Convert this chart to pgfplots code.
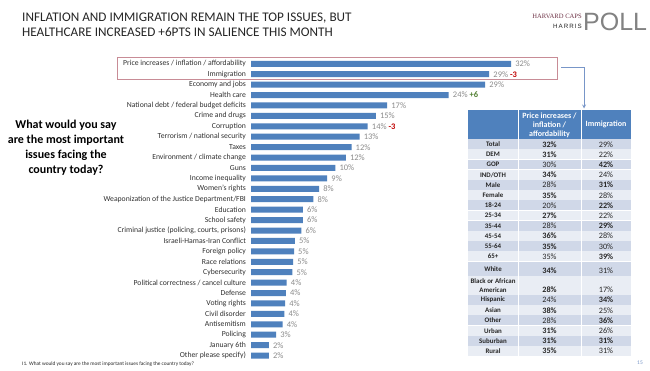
\documentclass[border=0pt]{standalone}
\usepackage{pgfplots}
\pgfplotsset{compat=1.18}
\usepackage{fontspec}
\setmainfont{Carlito}
\newfontfamily\serifl{Liberation Serif}
\newfontfamily\sansl{Liberation Sans}
\definecolor{barblue}{RGB}{79,129,189}
\definecolor{hdrblue}{RGB}{79,129,189}
\definecolor{rowdark}{RGB}{208,216,232}
\definecolor{rowlight}{RGB}{233,237,244}
\definecolor{lblgray}{RGB}{140,140,140}
\definecolor{txtdark}{RGB}{38,38,38}
\definecolor{ticktxt}{RGB}{50,50,50}
\definecolor{chgred}{RGB}{192,0,0}
\definecolor{chggreen}{RGB}{84,130,53}
\definecolor{boxpink}{RGB}{200,140,150}
\definecolor{arrowblue}{RGB}{120,150,200}
\definecolor{logored}{RGB}{110,50,70}
\definecolor{pollgray}{RGB}{130,130,130}
\newcommand{\ls}{\fontsize{7.7}{9}\selectfont}
\newcommand{\tabrow}[6]{%
  \fill[#6] (468,#1) rectangle (631,#2);
  \draw[white,line width=0.6pt] (468,#2) -- (631,#2);
  \node[font=\bfseries\fontsize{6.9}{9}\selectfont, align=center, text=txtdark, inner sep=0pt] at ({493},{(#1+#2)/2}) {#3};
  \node[font=\fontsize{8.2}{9}\selectfont, text=txtdark, inner sep=0pt] at ({549.5},{#2-5}) {#4};
  \node[font=\fontsize{8.2}{9}\selectfont, text=txtdark, inner sep=0pt] at ({606},{#2-5}) {#5};
}
\begin{document}
\begin{tikzpicture}[x=1pt,y=-1pt]
\path[use as bounding box, fill=white] (0,0) rectangle (650,371);
% title
\node[anchor=north west, align=left, font=\fontsize{13.2}{15}\selectfont, text=txtdark, inner sep=0pt] at (22,12.3)
  {INFLATION AND IMMIGRATION REMAIN THE TOP ISSUES, BUT\\HEALTHCARE INCREASED +6PTS IN SALIENCE THIS MONTH};
% logo
\node[anchor=east, font=\serifl\fontsize{6.6}{7}\selectfont, text=logored, inner sep=0pt] at (582,16.5) {HARVARD CAPS};
\node[anchor=east, font=\sansl\fontsize{6.2}{7}\selectfont, text=txtdark, inner sep=0pt] at (582,26) {H\,A\,R\,R\,I\,S};
\node[anchor=west, font=\sansl\fontsize{25}{26}\selectfont, text=pollgray, inner sep=0pt] at (583,21.5) {POLL};
% question
\node[align=center, font=\bfseries\fontsize{12}{15}\selectfont, text=black] at (66,147.5)
  {What would you say\\are the most important\\issues facing the\\country today?};
% highlight box and arrow
\draw[boxpink, line width=0.7pt] (117,57.5) rectangle (557.5,79);
\draw[arrowblue, line width=0.8pt, -stealth] (561,67.3) -- (584,67.3) -- (584,108.5);
% chart
\begin{axis}[
  at={(310,56.2)}, anchor=north west,
  scale only axis, width=324pt, height=302.2pt,
  xmin=0, xmax=40, ymin=-0.5, ymax=28.5, y dir=reverse,
  xbar, bar width=6pt, bar shift=0pt,
  axis line style={draw=none}, xtick=\empty, ytick={0,...,28}, major tick length=0pt,
  yticklabels={Price increases / inflation / affordability, Immigration, Economy and jobs, Health care,
    National debt / federal budget deficits, Crime and drugs, Corruption, Terrorism / national security,
    Taxes, Environment / climate change, Guns, Income inequality, Women's rights,
    Weaponization of the Justice Department/FBI, Education, School safety,
    {Criminal justice (policing, courts, prisons)}, Israeli-Hamas-Iran Conflict, Foreign policy,
    Race relations, Cybersecurity, Political correctness / cancel culture, Defense, Voting rights,
    Civil disorder, Antisemitism, Policing, January 6th, Other please specify)},
  yticklabel style={font=\ls, text=ticktxt, inner sep=0pt, xshift=-5pt},
  clip=false,
  nodes near coords, point meta=explicit symbolic,
  nodes near coords style={font=\fontsize{8.5}{9}\selectfont, text=lblgray, anchor=west, inner sep=0pt, xshift=4pt},
]
\addplot[fill=barblue, draw=none] coordinates {
  (32.1,0) [32\%]
  (29.4,1) [29\% \textcolor{chgred}{\textbf{-3}}]
  (28.9,2) [29\%]
  (24.4,3) [24\% \textcolor{chggreen}{\textbf{+6}}]
  (16.8,4) [17\%]
  (15.4,5) [15\%]
  (14.4,6) [14\% \textcolor{chgred}{\textbf{-3}}]
  (13.4,7) [13\%]
  (12.4,8) [12\%]
  (11.7,9) [12\%]
  (10.4,10) [10\%]
  (9.4,11) [9\%]
  (8.4,12) [8\%]
  (7.7,13) [8\%]
  (6.4,14) [6\%]
  (6.4,15) [6\%]
  (6.2,16) [6\%]
  (5.4,17) [5\%]
  (5.3,18) [5\%]
  (5.2,19) [5\%]
  (5.1,20) [5\%]
  (4.4,21) [4\%]
  (4.3,22) [4\%]
  (4.2,23) [4\%]
  (4.1,24) [4\%]
  (3.9,25) [4\%]
  (3.1,26) [3\%]
  (2.2,27) [2\%]
  (2.2,28) [2\%]
};
\end{axis}
% table
\fill[hdrblue] (468,110) rectangle (631,139.2);
\begin{scope}
\clip (468,110) rectangle (631,138.6);
\node[align=center, font=\bfseries\fontsize{8}{9}\selectfont, text=white, inner sep=0pt] at (549.5,125.5) {Price increases /\\inflation /\\affordability};
\end{scope}
\node[font=\bfseries\fontsize{8}{9}\selectfont, text=white, inner sep=0pt] at (606,124.5) {Immigration};
\tabrow{139.2}{149.4}{Total}{\textbf{32\%}}{29\%}{rowdark}
\tabrow{149.4}{159.6}{DEM}{\textbf{31\%}}{22\%}{rowlight}
\tabrow{159.6}{169.8}{GOP}{30\%}{\textbf{42\%}}{rowdark}
\tabrow{169.8}{180.0}{IND/OTH}{\textbf{34\%}}{24\%}{rowlight}
\tabrow{180.0}{190.2}{Male}{28\%}{\textbf{31\%}}{rowdark}
\tabrow{190.2}{200.4}{Female}{\textbf{35\%}}{28\%}{rowlight}
\tabrow{200.4}{210.6}{18-24}{20\%}{\textbf{22\%}}{rowdark}
\tabrow{210.6}{220.8}{25-34}{\textbf{27\%}}{22\%}{rowlight}
\tabrow{220.8}{231.0}{35-44}{28\%}{\textbf{29\%}}{rowdark}
\tabrow{231.0}{241.2}{45-54}{\textbf{36\%}}{28\%}{rowlight}
\tabrow{241.2}{251.4}{55-64}{\textbf{35\%}}{30\%}{rowdark}
\tabrow{251.4}{261.6}{65+}{35\%}{\textbf{39\%}}{rowlight}
\tabrow{261.6}{276.0}{White}{\textbf{34\%}}{31\%}{rowdark}
\tabrow{276.0}{295.0}{Black or African\\American}{\textbf{28\%}}{17\%}{rowlight}
\tabrow{295.0}{305.2}{Hispanic}{24\%}{\textbf{34\%}}{rowdark}
\tabrow{305.2}{315.4}{Asian}{\textbf{38\%}}{25\%}{rowlight}
\tabrow{315.4}{325.6}{Other}{28\%}{\textbf{36\%}}{rowdark}
\tabrow{325.6}{335.8}{Urban}{\textbf{31\%}}{26\%}{rowlight}
\tabrow{335.8}{346.0}{Suburban}{\textbf{31\%}}{\textbf{31\%}}{rowdark}
\tabrow{346.0}{356.2}{Rural}{\textbf{35\%}}{31\%}{rowlight}
\draw[white, line width=1pt] (518,110) -- (518,356.2);
\draw[white, line width=1pt] (581,110) -- (581,356.2);
% footnote and page number
\node[anchor=west, font=\fontsize{5.3}{6}\selectfont, text=txtdark, inner sep=0pt] at (22,364.5)
  {I1. What would you say are the most important issues facing the country today?};
\node[font=\fontsize{5.5}{6}\selectfont, text=arrowblue, inner sep=0pt] at (640,363) {15};
\end{tikzpicture}
\end{document}
